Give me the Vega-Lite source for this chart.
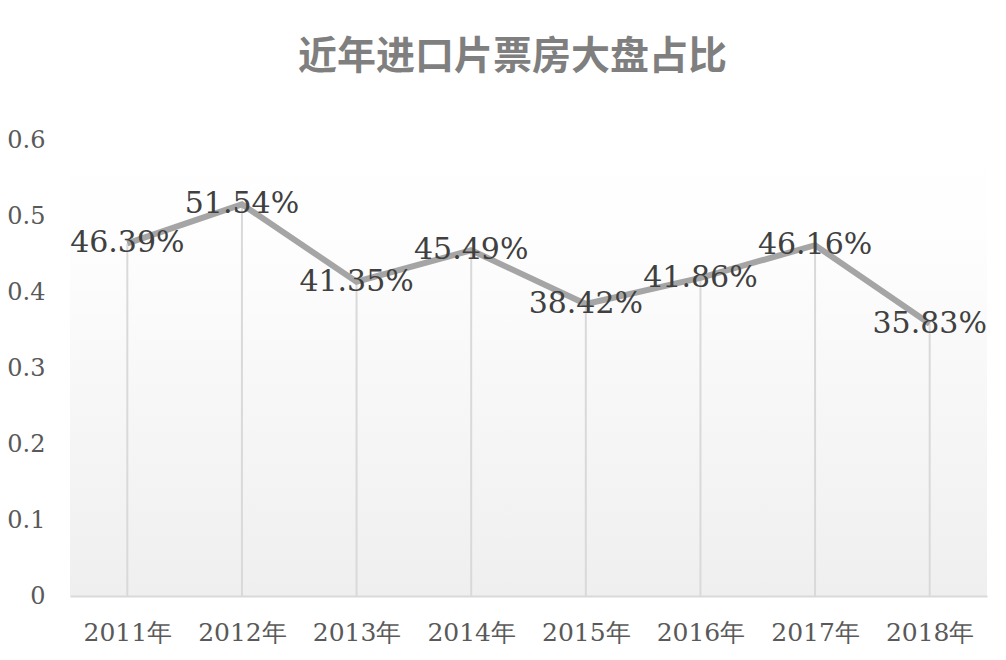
{
  "$schema": "https://vega.github.io/schema/vega-lite/v6.json",
  "width": 917,
  "height": 456,
  "autosize": {"type": "none"},
  "padding": {"left": 70, "top": 140, "right": 19, "bottom": 64},
  "background": "white",
  "title": {
    "text": "近年进口片票房大盘占比",
    "anchor": "middle",
    "frame": "group",
    "dx": -16,
    "offset": 12,
    "baseline": "bottom",
    "font": "Noto Sans CJK SC",
    "fontSize": 39,
    "fontWeight": "bold",
    "color": "#7f7f7f"
  },
  "config": {
    "view": {
      "stroke": null,
      "fill": {
        "gradient": "linear",
        "x1": 0, "y1": 0, "x2": 0, "y2": 1,
        "stops": [
          {"offset": 0, "color": "#ffffff"},
          {"offset": 0.19, "color": "#fefefe"},
          {"offset": 1, "color": "#efefef"}
        ]
      }
    }
  },
  "data": {
    "values": [
      {"year": "2011年", "share": 0.4639},
      {"year": "2012年", "share": 0.5154},
      {"year": "2013年", "share": 0.4135},
      {"year": "2014年", "share": 0.4549},
      {"year": "2015年", "share": 0.3842},
      {"year": "2016年", "share": 0.4186},
      {"year": "2017年", "share": 0.4616},
      {"year": "2018年", "share": 0.3583}
    ]
  },
  "encoding": {
    "x": {
      "field": "year",
      "type": "ordinal",
      "sort": null,
      "scale": {"type": "point", "padding": 0.5},
      "axis": {
        "title": null,
        "labelAngle": 0,
        "labelFont": "DejaVu Serif",
        "labelFontSize": 25,
        "labelColor": "#595959",
        "labelPadding": 24,
        "ticks": false,
        "domainColor": "#d9d9d9",
        "domainWidth": 2,
        "grid": false
      }
    },
    "y": {
      "field": "share",
      "type": "quantitative",
      "scale": {"domain": [0, 0.6], "nice": false},
      "axis": {
        "title": null,
        "values": [0, 0.1, 0.2, 0.3, 0.4, 0.5, 0.6],
        "format": "~g",
        "labelFont": "DejaVu Serif",
        "labelFontSize": 24,
        "labelColor": "#595959",
        "labelPadding": 25,
        "ticks": false,
        "domain": false,
        "grid": false
      }
    }
  },
  "layer": [
    {
      "mark": {"type": "rule", "color": "#d9d9d9", "strokeWidth": 2},
      "encoding": {"y2": {"datum": 0}}
    },
    {
      "mark": {"type": "line", "color": "#a5a5a5", "strokeWidth": 6}
    },
    {
      "mark": {
        "type": "text",
        "font": "DejaVu Serif",
        "fontSize": 30,
        "color": "#404040",
        "align": "center",
        "baseline": "middle"
      },
      "encoding": {
        "text": {"field": "share", "type": "quantitative", "format": ".2%"}
      }
    }
  ]
}
